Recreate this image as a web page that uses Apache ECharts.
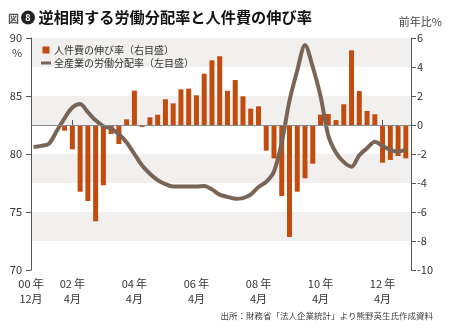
<!DOCTYPE html>
<html>
<head>
<meta charset="utf-8">
<script src="https://cdn.jsdelivr.net/npm/echarts@6/dist/echarts.min.js"></script>
<style>html,body{margin:0;padding:0;background:#fff;}#c{width:450px;height:333px;}</style>
</head>
<body>
<div id="c"></div>
<script>
// Quarterly periods (YYYY-MM)
const linePeriods = [
  '2001-01','2001-04','2001-07','2001-10',
  '2002-01','2002-04','2002-07','2002-10',
  '2003-01','2003-04','2003-07','2003-10',
  '2004-01','2004-04','2004-07','2004-10',
  '2005-01','2005-04','2005-07','2005-10',
  '2006-01','2006-04','2006-07','2006-10',
  '2007-01','2007-04','2007-07','2007-10',
  '2008-01','2008-04','2008-07','2008-10',
  '2009-01','2009-04','2009-07','2009-10',
  '2010-01','2010-04','2010-07','2010-10',
  '2011-01','2011-04','2011-07','2011-10',
  '2012-01','2012-04','2012-07','2012-10',
  '2013-01'
];
// 全産業の労働分配率 (%), left axis
const laborShare = [
  80.6, 80.7, 80.9, 82.0,
  83.1, 84.0, 84.3, 83.6,
  82.9, 82.4, 82.2, 81.7,
  81.0, 80.0, 79.0, 78.3,
  77.75, 77.4, 77.2, 77.2,
  77.2, 77.2, 77.25, 76.95,
  76.5, 76.3, 76.15, 76.2,
  76.5, 77.15, 77.6, 78.5,
  81.0, 84.6, 87.2, 89.4,
  87.5, 85.0, 81.6, 80.1,
  79.3, 78.9, 79.9, 80.5,
  81.05, 80.7, 80.35, 80.2,
  80.4
];
const barPeriods = linePeriods.slice(4);
// 人件費の伸び率 (前年比%), right axis
const laborCostGrowth = [
  -0.39, -1.68, -4.6, -5.24,
  -6.64, -4.16, -0.62, -1.31,
  0.39, 2.37, -0.14, 0.53,
  0.71, 1.77, 1.49, 2.46,
  2.51, 2.05, 3.54, 4.46,
  4.74, 2.36, 3.10, 1.98,
  1.13, 1.29, -1.77, -2.30,
  -4.90, -7.72, -4.6, -3.68,
  -2.67, 0.72, 0.76, 0.34,
  1.43, 5.15, 2.34, 0.97,
  0.74, -2.6, -2.41, -2.14,
  -2.3
];
// x-axis tick labels
const xLabelPeriods = ['2000-12','2002-04','2004-04','2006-04','2008-04','2010-04','2012-04'];
const xLabels = ['00\u2009年\n12月','02\u2009年\n4月','04\u2009年\n4月','06\u2009年\n4月','08\u2009年\n4月','10\u2009年\n4月','12\u2009年\n4月'];
const leftTicks = [70, 75, 80, 85, 90];
const rightTicks = [-10, -8, -6, -4, -2, 0, 2, 4, 6];

// month index, 0 = 2000-12
function monthIdx(p) {
  const [y, m] = p.split('-').map(Number);
  return (y - 2000) * 12 + (m - 12);
}
const xTickVals = xLabelPeriods.map(monthIdx);
const labelMap = {};
xTickVals.forEach((v, i) => { labelMap[v] = xLabels[i]; });

const FONT = '"Noto Sans CJK JP", "Noto Sans", sans-serif';
const BAR = '#c24b0e';
const LINE = '#7a6456';
const AX = '#555';

const chart = echarts.init(document.getElementById('c'), null, {renderer: 'canvas'});
chart.setOption({
  animation: false,
  backgroundColor: '#fff',
  textStyle: {fontFamily: FONT},
  title: [
    {
      left: 8, top: 10, padding: 0,
      text: '{fig|図}{num|8}{t| 逆相関する労働分配率と人件費の伸び率}',
      textStyle: {
        fontFamily: FONT,
        rich: {
          fig: {fontSize: 11, color: '#555', fontFamily: FONT, padding: [2, 2, 0, 0]},
          num: {fontSize: 9, color: '#fff', fontWeight: 'bold', backgroundColor: '#222',
                borderRadius: 7, width: 14, height: 14, lineHeight: 14, align: 'center', fontFamily: FONT},
          t: {fontSize: 15.2, fontWeight: 'bold', color: '#111', fontFamily: FONT}
        }
      }
    },
    {
      right: 8, top: 16, padding: 0, text: '前年比%',
      textStyle: {fontSize: 11, fontWeight: 'normal', color: '#444', fontFamily: FONT}
    },
    {
      left: 12, top: 47, padding: 0, text: '%',
      textStyle: {fontSize: 11, fontWeight: 'normal', color: '#444', fontFamily: FONT}
    },
    {
      right: 17, top: 312, padding: 0, text: '出所：財務省「法人企業統計」より熊野英生氏作成資料',
      textStyle: {fontSize: 8.5, fontWeight: 'normal', color: '#444', fontFamily: FONT}
    }
  ],
  legend: {
    orient: 'vertical',
    left: 41, top: 45, padding: 0,
    itemWidth: 10, itemHeight: 7, itemGap: 3,
    textStyle: {fontSize: 10, color: '#333', fontFamily: FONT, padding: [0, 0, 0, -2]},
    data: [
      {name: '人件費の伸び率（右目盛）', icon: 'path://M0,0h10v10h-10z'},
      {name: '全産業の労働分配率（左目盛）', icon: 'path://M0,0h10v3h-10z'}
    ]
  },
  grid: {left: 31, right: 39, top: 38, bottom: 63, containLabel: false},
  xAxis: {
    type: 'value',
    min: 0, max: 147,
    axisLine: {show: true, lineStyle: {color: AX, width: 1}},
    axisTick: {show: true, inside: true, length: 5, customValues: xTickVals.slice(1), lineStyle: {color: AX}},
    axisLabel: {
      customValues: xTickVals,
      formatter: v => labelMap[v] || '',
      fontSize: 11, color: '#333', lineHeight: 15, margin: 6, fontFamily: FONT
    },
    splitLine: {show: false}
  },
  yAxis: [
    {
      type: 'value', position: 'left',
      min: leftTicks[0], max: leftTicks[leftTicks.length - 1], interval: 5,
      axisLine: {show: true, lineStyle: {color: AX, width: 1}},
      axisTick: {show: true, inside: false, length: 5, lineStyle: {color: AX}},
      axisLabel: {fontSize: 11, color: '#333', margin: 9, fontFamily: FONT},
      splitLine: {show: false}
    },
    {
      type: 'value', position: 'right',
      min: rightTicks[0], max: rightTicks[rightTicks.length - 1], interval: 2,
      axisLine: {show: true, lineStyle: {color: AX, width: 1}},
      axisTick: {show: true, inside: false, length: 5, lineStyle: {color: AX}},
      axisLabel: {fontSize: 11, color: '#333', margin: 6, fontFamily: FONT},
      splitLine: {show: false},
      splitArea: {show: true, areaStyle: {color: ['#ffffff', '#f1f0ee']}}
    }
  ],
  series: [
    {
      name: '人件費の伸び率（右目盛）',
      type: 'bar',
      yAxisIndex: 1,
      barWidth: 5,
      itemStyle: {color: BAR},
      data: barPeriods.map((p, i) => [monthIdx(p), laborCostGrowth[i]]),
      markLine: {
        silent: true, symbol: 'none', label: {show: false},
        lineStyle: {color: '#888', width: 1, type: 'solid'},
        data: [{yAxis: 0}]
      },
      z: 2
    },
    {
      name: '全産業の労働分配率（左目盛）',
      type: 'line',
      yAxisIndex: 0,
      smooth: 0.3,
      showSymbol: false,
      symbol: 'none',
      lineStyle: {color: LINE, width: 4},
      itemStyle: {color: LINE},
      data: linePeriods.map((p, i) => [monthIdx(p), laborShare[i]]),
      z: 3
    }
  ]
});
</script>
</body>
</html>
